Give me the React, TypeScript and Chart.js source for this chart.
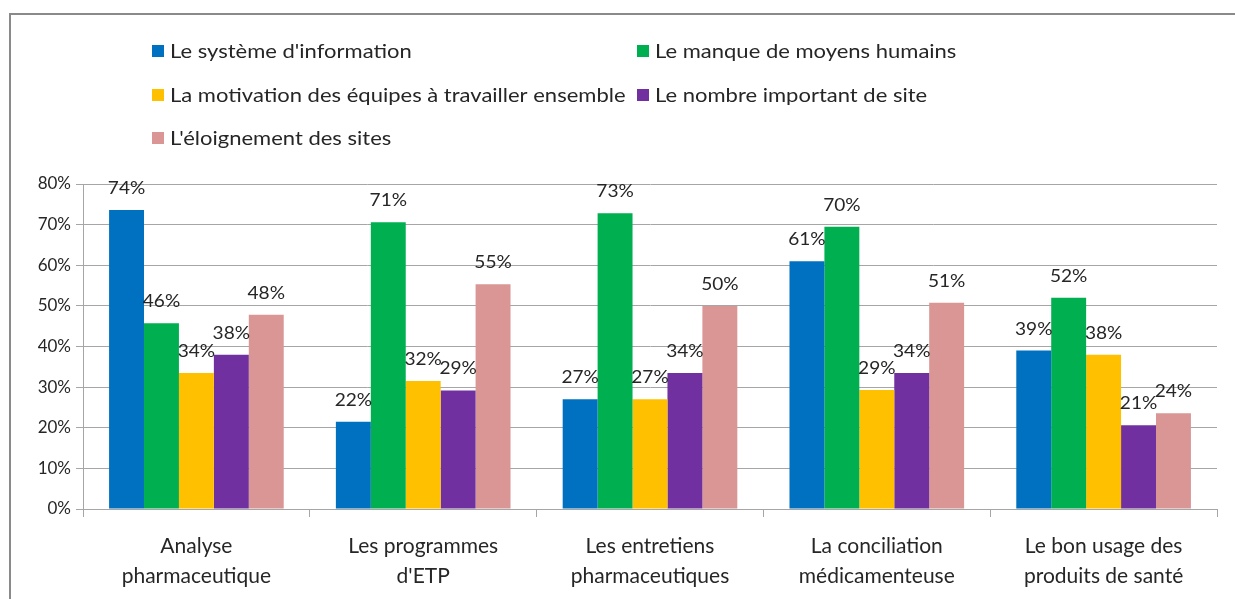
import React, { useEffect, useRef } from "react";
import { Chart, registerables } from "chart.js";

Chart.register(...registerables);

const categories: string[][] = [
  ["Analyse", "pharmaceutique"],
  ["Les programmes", "d'ETP"],
  ["Les entretiens", "pharmaceutiques"],
  ["La conciliation", "médicamenteuse"],
  ["Le bon usage des", "produits de santé"],
];

const seriesNames: string[] = [
  "Le système d'information",
  "Le manque de moyens humains",
  "La motivation des équipes à travailler ensemble",
  "Le nombre important de site",
  "L'éloignement des sites",
];

const systemeInformation: number[] = [73.6, 21.5, 27.0, 61.0, 39.0];
const manqueMoyens: number[] = [45.7, 70.6, 72.8, 69.5, 52.0];
const motivationEquipes: number[] = [33.5, 31.5, 27.0, 29.3, 38.0];
const nombreSites: number[] = [38.0, 29.2, 33.5, 33.5, 20.6];
const eloignementSites: number[] = [47.8, 55.3, 50.0, 50.8, 23.6];

const seriesColors: string[] = ["#0070C0", "#00B050", "#FFC000", "#7030A0", "#D99694"];

const yTicks: number[] = [0, 10, 20, 30, 40, 50, 60, 70, 80];

const FONT = "Lato, 'Open Sans', sans-serif";
const TEXT = "#262626";
const GRID = "#a6a6a6";

const legendPlugin = {
  id: "twoColLegend",
  afterDraw(chart: any) {
    const ctx = chart.ctx;
    const colX = [152, 637];
    const rowY = [51, 95, 138];
    ctx.save();
    ctx.font = `20px ${FONT}`;
    ctx.textBaseline = "middle";
    ctx.textAlign = "left";
    chart.data.datasets.forEach((ds: any, i: number) => {
      const col = i % 2;
      const row = Math.floor(i / 2);
      const x = colX[col];
      const y = rowY[row];
      ctx.fillStyle = ds.backgroundColor;
      ctx.fillRect(x, y - 6, 12, 12);
      ctx.fillStyle = TEXT;
      ctx.save();
      ctx.translate(x + 18, y + 1);
      ctx.scale(1.1, 1);
      ctx.fillText(ds.label, 0, 0);
      ctx.restore();
    });
    ctx.restore();
  },
};

const valueLabelPlugin = {
  id: "valueLabels",
  afterDatasetsDraw(chart: any) {
    const ctx = chart.ctx;
    ctx.save();
    ctx.font = `18px ${FONT}`;
    ctx.fillStyle = TEXT;
    ctx.textAlign = "center";
    ctx.textBaseline = "alphabetic";
    chart.data.datasets.forEach((ds: any, di: number) => {
      const meta = chart.getDatasetMeta(di);
      meta.data.forEach((bar: any, i: number) => {
        const v = ds.data[i];
        ctx.save();
        ctx.translate(bar.x, bar.y - 16);
        ctx.scale(1.06, 1);
        ctx.fillText(Math.round(v) + "%", 0, 0);
        ctx.restore();
      });
    });
    ctx.restore();
  },
};

export default function App() {
  const ref = useRef<HTMLCanvasElement>(null);

  useEffect(() => {
    if (!ref.current) return;
    const values = [systemeInformation, manqueMoyens, motivationEquipes, nombreSites, eloignementSites];
    const chart = new Chart(ref.current, {
      type: "bar",
      data: {
        labels: categories,
        datasets: seriesNames.map((name, i) => ({
          label: name,
          data: values[i],
          backgroundColor: seriesColors[i],
          borderWidth: 0,
          barPercentage: 1,
          categoryPercentage: 0.77,
        })),
      },
      options: {
        animation: false,
        responsive: false,
        maintainAspectRatio: false,
        layout: { padding: { top: 184, left: 0, right: 18, bottom: 0 } },
        plugins: {
          legend: { display: false },
          tooltip: { enabled: false },
        },
        scales: {
          x: {
            offset: true,
            grid: {
              offset: true,
              drawOnChartArea: false,
              drawTicks: true,
              tickLength: 8,
              color: GRID,
            },
            border: { display: true, color: GRID },
            ticks: {
              font: { family: FONT, size: 21, lineHeight: 1.45 },
              color: TEXT,
              padding: 14,
              maxRotation: 0,
              autoSkip: false,
            },
            afterFit: (s: any) => {
              s.height = 90;
            },
          },
          y: {
            min: 0,
            max: 80,
            afterBuildTicks: (s: any) => {
              s.ticks = yTicks.map((v) => ({ value: v }));
            },
            grid: { color: GRID, tickLength: 7, drawTicks: true },
            border: { display: true, color: GRID },
            ticks: {
              font: { family: FONT, size: 17 },
              color: TEXT,
              padding: 5,
              callback: (v: any) => v + "%",
            },
            afterFit: (s: any) => {
              s.width = 83;
            },
          },
        },
      },
      plugins: [legendPlugin, valueLabelPlugin],
    });
    return () => chart.destroy();
  }, []);

  return (
    <div style={{ position: "absolute", left: 0, top: 0, width: 1235, height: 599, overflow: "hidden", background: "#fff" }}>
      <div
        style={{
          position: "absolute",
          left: 9,
          top: 13,
          width: 1400,
          height: 800,
          border: "2px solid #8a8a8a",
          boxSizing: "border-box",
        }}
      />
      <canvas ref={ref} width={1235} height={599} style={{ position: "absolute", left: 0, top: 0 }} />
    </div>
  );
}
